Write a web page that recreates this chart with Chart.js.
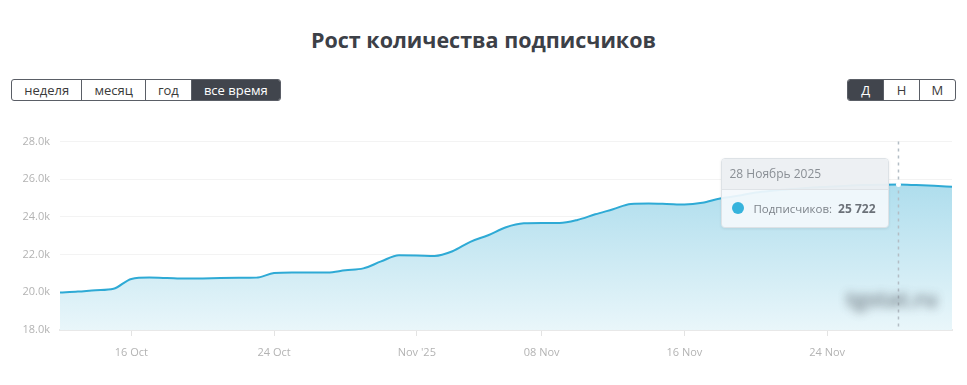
<!DOCTYPE html>
<html>
<head>
<meta charset="utf-8">
<script src="https://cdn.jsdelivr.net/npm/chart.js@4"></script>
<style>
  html, body { margin:0; padding:0; background:#fff; width:967px; height:385px; overflow:hidden; font-family:"Open Sans", Lato, sans-serif; }
  #title { position:absolute; left:0; top:25px; width:967px; text-align:center; font-size:21.5px; font-weight:700; color:#3c4047; }
  .grp { position:absolute; top:79px; height:22px; display:flex; border:1px solid #5a5e66; border-radius:3px; overflow:hidden; box-sizing:border-box; }
  .grp div { box-sizing:border-box; height:100%; display:flex; align-items:center; justify-content:center; font-size:13px; color:#3a3a3a; border-left:1px solid #5a5e66; }
  .grp div:first-child { border-left:none; }
  .grp div.on { background:#41454d; color:#fff; }
  #wrap { position:absolute; left:0; top:125px; width:960px; height:245px; }
  #tip { position:absolute; display:none; width:166px; border:1px solid #dde2e6; border-radius:4px; overflow:hidden; box-shadow:0 1px 3px rgba(0,0,0,0.08); font-family:"Open Sans", Lato, sans-serif; }
  #tip .t { background:rgba(236,239,242,0.96); height:30px; line-height:30px; padding-left:7px; font-size:12px; color:#8a8f95; border-bottom:1px solid #dfe3e7; }
  #tip .b { background:rgba(244,249,252,0.92); height:37px; display:flex; align-items:center; padding-left:10px; font-size:11.5px; color:#7d838a; }
  #tip .dot { width:12px; height:12px; border-radius:50%; background:#36b3dc; margin-right:9px; }
  #tip .v { font-weight:700; color:#6b7178; margin-left:6px; font-size:12px; }
  #wm { position:absolute; left:846px; top:285px; font-size:21px; font-weight:700; color:#6f7a82; filter:blur(5px); opacity:0.85; white-space:nowrap; }
</style>
</head>
<body>
<div id="title">Рост количества подписчиков</div>
<div class="grp" style="left:11px;width:270px;">
  <div style="width:70px">неделя</div>
  <div style="width:64px">месяц</div>
  <div style="width:46px">год</div>
  <div class="on" style="width:90px">все время</div>
</div>
<div class="grp" style="left:847px;width:109px;">
  <div class="on" style="width:36px">Д</div>
  <div style="width:36px">Н</div>
  <div style="width:37px">М</div>
</div>
<div id="wrap"><canvas id="c" width="960" height="245"></canvas></div>
<div id="wm">tgstat.ru</div>
<div id="tip"><div class="t" id="tipTitle"></div><div class="b"><div class="dot"></div><span>Подписчиков:</span><span class="v" id="tipVal"></span></div></div>
<script>
// Days from 12 Oct 2025 to 1 Dec 2025 (index = day offset)
const dates = ["12 Октябрь 2025","13 Октябрь 2025","14 Октябрь 2025","15 Октябрь 2025","16 Октябрь 2025","17 Октябрь 2025","18 Октябрь 2025","19 Октябрь 2025","20 Октябрь 2025","21 Октябрь 2025","22 Октябрь 2025","23 Октябрь 2025","24 Октябрь 2025","25 Октябрь 2025","26 Октябрь 2025","27 Октябрь 2025","28 Октябрь 2025","29 Октябрь 2025","30 Октябрь 2025","31 Октябрь 2025","1 Ноябрь 2025","2 Ноябрь 2025","3 Ноябрь 2025","4 Ноябрь 2025","5 Ноябрь 2025","6 Ноябрь 2025","7 Ноябрь 2025","8 Ноябрь 2025","9 Ноябрь 2025","10 Ноябрь 2025","11 Ноябрь 2025","12 Ноябрь 2025","13 Ноябрь 2025","14 Ноябрь 2025","15 Ноябрь 2025","16 Ноябрь 2025","17 Ноябрь 2025","18 Ноябрь 2025","19 Ноябрь 2025","20 Ноябрь 2025","21 Ноябрь 2025","22 Ноябрь 2025","23 Ноябрь 2025","24 Ноябрь 2025","25 Ноябрь 2025","26 Ноябрь 2025","27 Ноябрь 2025","28 Ноябрь 2025","29 Ноябрь 2025","30 Ноябрь 2025","1 Декабрь 2025"];
const subscribers = [19990,20040,20110,20190,20710,20780,20760,20730,20740,20760,20770,20780,21020,21050,21050,21050,21170,21270,21640,21970,21960,21930,22180,22680,23030,23450,23660,23680,23680,23840,24140,24410,24690,24710,24690,24660,24750,24980,25120,25300,25400,25480,25550,25600,25650,25690,25710,25722,25690,25650,25600];
const tickDays = [4,12,20,27,35,43];
const tickLabels = ["16 Oct","24 Oct","Nov '25","08 Nov","16 Nov","24 Nov"];
const yTicks = [18000,20000,22000,24000,26000,28000];
const activeIndex = 47;

const points = subscribers.map((v,i)=>({x:i,y:v}));

const hoverPlugin = {
  id:'hover',
  afterDatasetsDraw(chart){
    const {ctx, chartArea, scales} = chart;
    const px = scales.x.getPixelForValue(activeIndex);
    const py = scales.y.getPixelForValue(subscribers[activeIndex]);
    ctx.save();
    ctx.strokeStyle = '#b3bdc5';
    ctx.lineWidth = 1.5;
    ctx.setLineDash([3,4]);
    ctx.beginPath();
    ctx.moveTo(px, chartArea.top);
    ctx.lineTo(px, chartArea.bottom);
    ctx.stroke();
    ctx.setLineDash([]);
    ctx.fillStyle = '#ffffff';
    ctx.beginPath();
    ctx.arc(px, py, 2.5, 0, Math.PI*2);
    ctx.fill();
    ctx.restore();
    const tip = document.getElementById('tip');
    const wrap = document.getElementById('wrap');
    document.getElementById('tipTitle').textContent = dates[activeIndex];
    document.getElementById('tipVal').textContent = subscribers[activeIndex].toLocaleString('ru-RU').replace(/\s/g,' ');
    tip.style.display = 'block';
    tip.style.left = (wrap.offsetLeft + px - 177) + 'px';
    tip.style.top = (wrap.offsetTop + chartArea.top + 16) + 'px';
  }
};

new Chart(document.getElementById('c'), {
  type:'line',
  data:{ datasets:[{
    data: points,
    borderColor:'#2eaad5',
    borderWidth:2,
    pointRadius:0,
    cubicInterpolationMode:'monotone',
    fill:'start',
    backgroundColor:(ctx)=>{
      const a = ctx.chart.chartArea;
      if(!a) return '#d5eef6';
      const g = ctx.chart.ctx.createLinearGradient(0,a.top,0,a.bottom);
      g.addColorStop(0,'#9dd6e9');
      g.addColorStop(1,'#e9f6fa');
      return g;
    }
  }]},
  options:{
    responsive:false,
    animation:false,
    maintainAspectRatio:false,
    layout:{ padding:{ top:6, right:8, left:0, bottom:0 } },
    plugins:{ legend:{display:false}, tooltip:{enabled:false} },
    scales:{
      x:{
        type:'linear', min:0, max:50,
        afterBuildTicks:(s)=>{ s.ticks = tickDays.map(v=>({value:v})); },
        afterFit:(s)=>{ s.height = 40; },
        ticks:{ callback:(v)=>{ const k = tickDays.indexOf(v); return k>=0 ? tickLabels[k] : ''; }, color:'#b3b3b3', font:{family:'"Open Sans", Lato, sans-serif', size:11}, padding:10, maxRotation:0, autoSkip:false },
        grid:{ drawOnChartArea:false, drawTicks:true, tickLength:6, color:'#e3e3e3' },
        border:{ color:'#e8e8e8', width:2 }
      },
      y:{
        min:18000, max:28000,
        afterBuildTicks:(s)=>{ s.ticks = yTicks.map(v=>({value:v})); },
        afterFit:(s)=>{ s.width = 60; },
        ticks:{ callback:(v)=>(v/1000).toFixed(1)+'k', color:'#b3b3b3', font:{family:'"Open Sans", Lato, sans-serif', size:11}, padding:10 },
        grid:{ color:'#f3f3f3', drawTicks:false },
        border:{ display:false }
      }
    }
  },
  plugins:[hoverPlugin]
});
</script>
</body>
</html>
